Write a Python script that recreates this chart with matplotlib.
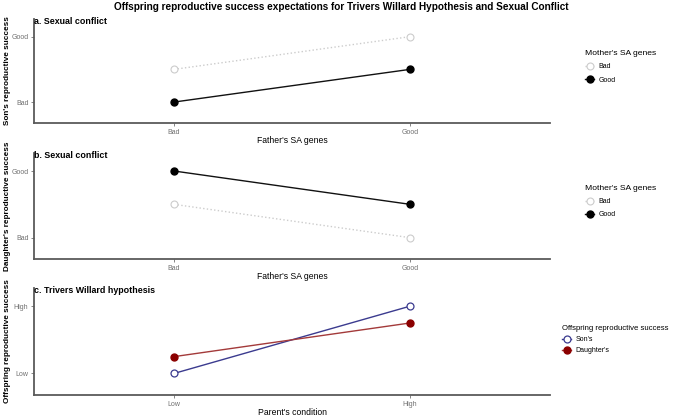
import numpy as np
import matplotlib
matplotlib.use('Agg')
import matplotlib.pyplot as plt

plt.rcParams['font.family'] = ['Liberation Sans', 'DejaVu Sans']

# データ
genes = ['Bad', 'Good']
son_bad_mother = [1.5, 2.0]
son_good_mother = [1.0, 1.5]
dau_bad_mother = [1.5, 1.0]
dau_good_mother = [2.0, 1.5]

condition = ['Low', 'High']
sons = [1.0, 2.0]
daughters = [1.25, 1.75]

axis_grey = '#5a5a5a'
tick_grey = '#707070'
light = '#cccccc'

W, H = 675, 418


def px(x, y):
    return x / W, 1 - y / H


def style_axes(ax, ticklabels, xlabel, ylabel, title):
    ax.set_xlim(0.407, 2.593)
    ax.set_ylim(0.68, 2.27)
    ax.set_xticks([1, 2])
    ax.set_xticklabels(ticklabels)
    ax.set_yticks([1, 2])
    ax.set_yticklabels(ticklabels)
    for s in ['top', 'right']:
        ax.spines[s].set_visible(False)
    for s in ['left', 'bottom']:
        ax.spines[s].set_color(axis_grey)
        ax.spines[s].set_linewidth(1.3)
    ax.tick_params(length=2, width=0.6, colors=tick_grey, labelsize=5, pad=2)
    ax.annotate(title, xy=(0, 1), xycoords='axes fraction', xytext=(0, -1.5),
                textcoords='offset points', ha='left', va='center',
                fontsize=6.4, fontweight='bold')
    ax.set_xlabel(xlabel, fontsize=6.2, labelpad=0.3)
    bb = ax.get_position()
    fig.text(8 / W, (bb.y0 + bb.y1) / 2, ylabel, fontsize=5.9, fontweight='bold',
             rotation=90, ha='center', va='center')


def add_legend(ax, title, x, y, spacing, tsize=6.1):
    ax.legend(title=title, loc='upper left', bbox_to_anchor=px(x, y),
              bbox_transform=fig.transFigure, frameon=False, fontsize=5,
              title_fontsize=tsize, handlelength=1.3, handletextpad=0.6,
              labelspacing=spacing, alignment='left', borderaxespad=0, borderpad=0)


fig = plt.figure(figsize=(6.75, 4.18), dpi=100)
fig.suptitle('Offspring reproductive success expectations for Trivers Willard Hypothesis and Sexual Conflict',
             fontsize=7.2, fontweight='bold', x=0.505, y=0.995)

x = np.array([1, 2])
left, right = 34, 550

# a. 息子
ax1 = fig.add_axes([left / W, 1 - 123 / H, (right - left) / W, (123 - 19) / H])
ax1.plot(x, son_bad_mother, color=light, ls=':', lw=1, marker='o', ms=5,
         mfc='white', mec=light, mew=0.8, label='Bad')
ax1.plot(x, son_good_mother, color='#111111', ls='-', lw=1, marker='o', ms=5,
         mfc='black', mec='black', label='Good')
style_axes(ax1, genes, "Father's SA genes", "Son's reproductive success",
           'a. Sexual conflict')
add_legend(ax1, "Mother's SA genes", 585, 50, 0.9)

# b. 娘
ax2 = fig.add_axes([left / W, 1 - 259 / H, (right - left) / W, (259 - 153) / H])
ax2.plot(x, dau_bad_mother, color=light, ls=':', lw=1, marker='o', ms=5,
         mfc='white', mec=light, mew=0.8, label='Bad')
ax2.plot(x, dau_good_mother, color='#111111', ls='-', lw=1, marker='o', ms=5,
         mfc='black', mec='black', label='Good')
style_axes(ax2, genes, "Father's SA genes", "Daughter's reproductive success",
           'b. Sexual conflict')
add_legend(ax2, "Mother's SA genes", 585, 185, 0.9)

# c. Trivers-Willard
ax3 = fig.add_axes([left / W, 1 - 395 / H, (right - left) / W, (395 - 288) / H])
ax3.plot(x, sons, color='#3b3b8f', lw=1, marker='o', ms=5,
         mfc='white', mec='#3b3b8f', mew=0.9, label="Son's")
ax3.plot(x, daughters, color='#a33a3a', lw=1, marker='o', ms=5,
         mfc='#8b0000', mec='#8b0000', label="Daughter's")
style_axes(ax3, condition, "Parent's condition", 'Offspring reproductive success',
           'c. Trivers Willard hypothesis')
add_legend(ax3, 'Offspring reproductive success', 562, 325, 0.6, tsize=5.6)

fig.savefig('out.png', dpi=100)
